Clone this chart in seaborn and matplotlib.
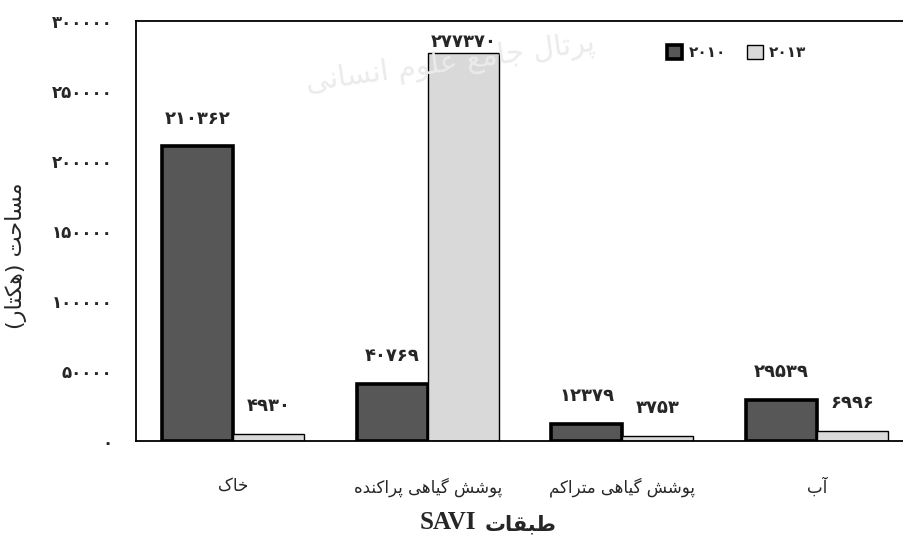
import numpy as np
import pandas as pd
import matplotlib
matplotlib.use('Agg')
import matplotlib.pyplot as plt
import seaborn as sns

# data (categories in visual order, left to right)
categories = ['خاک', 'پوشش گیاهی پراکنده', 'پوشش گیاهی متراکم', 'آب']
years = ['2010', '2013']
area_2010 = [210362, 40769, 12379, 29539]
area_2013 = [4930, 277370, 3753, 6996]
y_ticks = [0, 50000, 100000, 150000, 200000, 250000, 300000]

x_title = 'طبقات'
x_title_latin = 'SAVI'
y_title = 'مساحت (هکتار)'
watermark = 'پرتال جامع علوم انسانی'

# minimal Persian shaping (presentation forms), since matplotlib does no shaping / bidi
FORMS = {
    'ا': ('\uFE8D', '\uFE8E', None, None),
    'آ': ('\uFE81', '\uFE82', None, None),
    'ب': ('\uFE8F', '\uFE90', '\uFE91', '\uFE92'),
    'پ': ('\uFB56', '\uFB57', '\uFB58', '\uFB59'),
    'ت': ('\uFE95', '\uFE96', '\uFE97', '\uFE98'),
    'ج': ('\uFE9D', '\uFE9E', '\uFE9F', '\uFEA0'),
    'ح': ('\uFEA1', '\uFEA2', '\uFEA3', '\uFEA4'),
    'خ': ('\uFEA5', '\uFEA6', '\uFEA7', '\uFEA8'),
    'د': ('\uFEA9', '\uFEAA', None, None),
    'ر': ('\uFEAD', '\uFEAE', None, None),
    'س': ('\uFEB1', '\uFEB2', '\uFEB3', '\uFEB4'),
    'ش': ('\uFEB5', '\uFEB6', '\uFEB7', '\uFEB8'),
    'ط': ('\uFEC1', '\uFEC2', '\uFEC3', '\uFEC4'),
    'ع': ('\uFEC9', '\uFECA', '\uFECB', '\uFECC'),
    'ق': ('\uFED5', '\uFED6', '\uFED7', '\uFED8'),
    'ک': ('\uFB8E', '\uFB8F', '\uFB90', '\uFB91'),
    'گ': ('\uFB92', '\uFB93', '\uFB94', '\uFB95'),
    'ل': ('\uFEDD', '\uFEDE', '\uFEDF', '\uFEE0'),
    'م': ('\uFEE1', '\uFEE2', '\uFEE3', '\uFEE4'),
    'ن': ('\uFEE5', '\uFEE6', '\uFEE7', '\uFEE8'),
    'ه': ('\uFEE9', '\uFEEA', '\uFEEB', '\uFEEC'),
    'و': ('\uFEED', '\uFEEE', None, None),
    'ی': ('\uFBFC', '\uFBFD', '\uFBFE', '\uFBFF'),
}


def fa(s):
    out = []
    for i, ch in enumerate(s):
        if ch not in FORMS:
            out.append(ch)
            continue
        prev = s[i - 1] if i > 0 else None
        nxt = s[i + 1] if i < len(s) - 1 else None
        iso, fin, ini, med = FORMS[ch]
        join_prev = prev in FORMS and FORMS[prev][2] is not None
        join_next = nxt in FORMS and ini is not None
        if join_prev and join_next:
            out.append(med)
        elif join_prev:
            out.append(fin)
        elif join_next:
            out.append(ini)
        else:
            out.append(iso)
    vis = ''.join(out)[::-1]
    return vis.translate(str.maketrans('()', ')('))


def fa_num(v):
    return str(v).translate(str.maketrans('0123456789', '۰۱۲۳۴۵۶۷۸۹'))


df = pd.DataFrame({
    'category': categories * 2,
    'year': [years[0]] * len(categories) + [years[1]] * len(categories),
    'area': area_2010 + area_2013,
})

sns.set_style('white')
plt.rcParams['font.family'] = ['DejaVu Sans']

fig = plt.figure(figsize=(9.04, 5.41), dpi=100)
ax = fig.add_axes([136 / 904, 100 / 541, 778 / 904, 420 / 541])

# faint watermark of the source site
fig.text(450 / 904, 478 / 541, fa(watermark), fontsize=21, color='#ebebeb',
         rotation=8, ha='center', va='center', zorder=0)

sns.barplot(data=df, x='category', y='area', hue='year', order=categories,
            palette=['#575757', '#d9d9d9'], width=0.73, gap=0,
            edgecolor='black', ax=ax, legend=True)
ax.patch.set_alpha(0)

lws = [2.6, 1.0]
for cont, lw in zip(ax.containers, lws):
    for bar in cont:
        bar.set_linewidth(lw)

# value labels above bars
for cont in ax.containers:
    for bar in cont:
        h = bar.get_height()
        off = 8 if h > 260000 else 20
        ax.annotate(fa_num(int(round(h))), (bar.get_x() + bar.get_width() / 2, h),
                    xytext=(0, off), textcoords='offset points',
                    ha='center', va='center', fontsize=13, fontweight='bold')

ax.set_xlim(-0.5, 3.5)
ax.set_ylim(0, 300000)
ax.set_yticks(y_ticks)
ax.set_yticklabels([fa_num(t) for t in y_ticks], fontsize=12, fontweight='bold')
ax.tick_params(axis='y', direction='in', length=6, width=1, pad=17)
ax.tick_params(axis='x', length=0, pad=26)
ax.set_xticks(range(len(categories)))
ax.set_xticklabels([fa(c) for c in categories], fontsize=12)

for side in ['left', 'top', 'bottom']:
    ax.spines[side].set_color('black')
    ax.spines[side].set_linewidth(1.3)
ax.spines['right'].set_visible(False)

# x title: latin part on the left, Persian word on the right (as in the reference)
ax.set_xlabel('')
ax.annotate(x_title_latin, (0.5, 0), xycoords='axes fraction',
            xytext=(-35, -59), textcoords='offset points', ha='right', va='center',
            fontsize=18, fontweight='bold', family='Liberation Serif')
ax.annotate(fa(x_title), (0.5, 0), xycoords='axes fraction',
            xytext=(-29, -60), textcoords='offset points', ha='left', va='center',
            fontsize=15, fontweight='bold')

ax.set_ylabel(fa(y_title), fontsize=16)
ax.yaxis.set_label_coords(-0.14, 0.44)

handles, labels = ax.get_legend_handles_labels()
leg = ax.legend(handles, [fa_num(l) for l in labels], ncol=2, frameon=False,
                loc='upper left', bbox_to_anchor=(0.665, 0.975),
                handlelength=1.0, handleheight=1.0, columnspacing=1.4,
                handletextpad=0.4, prop={'size': 11, 'weight': 'bold'})
for h, lw in zip(leg.legend_handles, lws):
    h.set_linewidth(lw)
    h.set_edgecolor('black')

fig.savefig('out.png', dpi=100)
